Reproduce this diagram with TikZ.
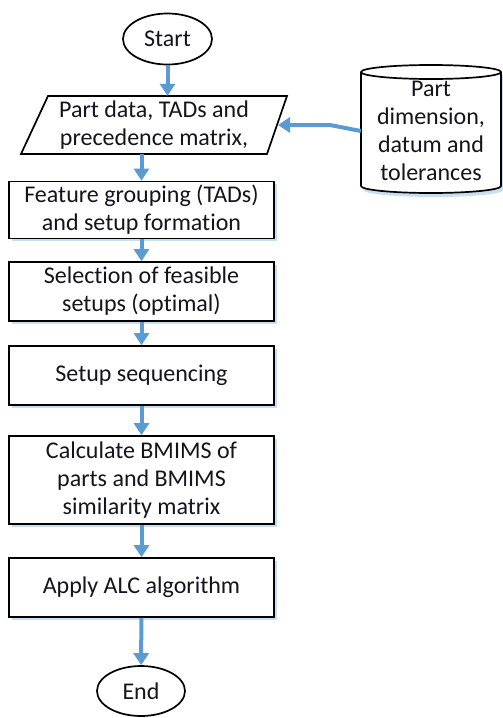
\documentclass[tikz,border=0pt]{standalone}
\usepackage{fontspec}
\setmainfont[Ligatures={NoCommon}]{Carlito}
\usetikzlibrary{shapes.geometric,arrows.meta,shadows}
\definecolor{flowblue}{RGB}{91,155,213}
\definecolor{shadowblue}{RGB}{200,222,242}
\definecolor{txt}{RGB}{20,20,30}
\begin{document}
\begin{tikzpicture}[x=1pt,y=-1pt,
  every node/.style={font=\fontsize{24}{28}\selectfont, text=txt, align=center},
  procbox/.style={draw, line width=1.7pt, fill=white, minimum width=265pt, inner sep=0pt,
    drop shadow={shadow xshift=2.5pt, shadow yshift=-2.5pt, fill=shadowblue, opacity=1}},
  term/.style={ellipse, draw, line width=1.7pt, inner sep=0pt},
  outline/.style={line width=1.7pt},
  flow/.style={line width=4pt, draw=flowblue, -{Triangle[width=15pt,length=12pt]}}]
\useasboundingbox (0,0) rectangle (503,718);

% Start
\node[term, minimum width=89pt, minimum height=51pt] (start) at (167.5,39) {Start};

% Parallelogram
\draw[outline] (48,96) -- (287,96) -- (267,154) -- (21,154) -- cycle;
\node[minimum width=240pt, minimum height=58pt, inner sep=0pt] (para) at (154,125) {Part data, TADs and\\precedence matrix,};
\coordinate (paraR) at (278,125);

% Cylinder
\fill[shadowblue] (363.5,75) -- (363.5,190) arc[start angle=180, end angle=360, x radius=70pt, y radius=7pt] -- (503.5,75) -- cycle;
\fill[white] (361,72) -- (361,186) arc[start angle=180, end angle=360, x radius=70pt, y radius=7pt] -- (501,72) -- cycle;
\draw[outline] (361,72) -- (361,186) arc[start angle=180, end angle=360, x radius=70pt, y radius=7pt] -- (501,72);
\draw[outline] (431,72) ellipse [x radius=70pt, y radius=7pt];
\node[minimum width=140pt, minimum height=120pt, inner sep=0pt] (cyl) at (431,131) {Part\\dimension,\\datum and\\tolerances};
\coordinate (bend) at (330,125);

% Process boxes
\node[procbox, minimum height=57pt] (feat) at (141.5,210) {Feature grouping (TADs)\\and setup formation};
\node[procbox, minimum height=59pt] (sel) at (141.5,291.5) {Selection of feasible\\setups (optimal)};
\node[procbox, minimum height=59pt] (seq) at (141.5,375.5) {Setup sequencing};
\node[procbox, minimum height=88pt] (calc) at (141.5,480) {Calculate BMIMS of\\parts and BMIMS\\similarity matrix};
\node[procbox, minimum height=59pt] (alc) at (141.5,587.5) {Apply ALC algorithm};

% End
\node[term, minimum width=88pt, minimum height=50pt] (end) at (141,691) {End};

% Connectors
\draw[flow] (start) -- (start |- para.north);
\draw[flow] (cyl.west) -- (bend) -- (paraR);
\draw[flow] (feat.north |- para.south) -- (feat);
\draw[flow] (feat) -- (sel);
\draw[flow] (sel) -- (seq);
\draw[flow] (seq) -- (calc);
\draw[flow] (calc) -- (alc);
\draw[flow] (alc) -- (end);
\end{tikzpicture}
\end{document}
